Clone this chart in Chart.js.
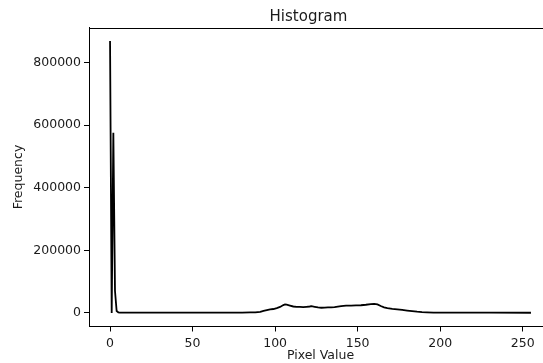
<!DOCTYPE html>
<html>
<head>
<meta charset="utf-8">
<script src="https://cdn.jsdelivr.net/npm/chart.js@4/dist/chart.umd.min.js"></script>
<style>
html,body{margin:0;padding:0;background:#fff;overflow:hidden;width:543px;height:363px;}
#c{position:absolute;left:0;top:0;}
</style>
</head>
<body>
<canvas id="c" width="560" height="363"></canvas>
<script>
// Pixel values (x) and frequencies (y)
const pixelValues = [0, 1, 2, 3, 4, 5, 6, 10, 20, 40, 60, 80, 85, 88, 91, 93, 95, 97, 99, 101, 103, 105, 106, 107, 109, 111, 113, 115, 117, 119, 121, 122, 124, 126, 128, 130, 132, 134, 136, 138, 140, 143, 146, 149, 152, 155, 158, 160, 162, 164, 166, 168, 171, 174, 177, 180, 183, 186, 189, 192, 196, 200, 210, 230, 255];
const frequencies = [868000, 0, 575000, 70000, 6000, 2000, 1000, 900, 800, 700, 700, 1000, 1500, 2000, 3500, 6500, 9000, 11000, 12500, 15500, 19000, 25000, 27000, 26500, 23500, 20500, 19500, 19000, 18500, 19500, 20500, 21500, 19500, 17500, 16500, 17000, 17500, 17500, 18500, 20000, 21500, 23000, 23500, 24000, 24500, 26000, 28000, 29000, 27000, 22000, 17500, 15000, 13000, 11500, 9500, 7500, 5500, 3800, 2500, 1800, 1200, 900, 700, 600, 500];
const xTicks = [0, 50, 100, 150, 200, 250];
const yTicks = [0, 200000, 400000, 600000, 800000];
const chartTitle = 'Histogram';
const xTitle = 'Pixel Value';
const yTitle = 'Frequency';

const points = pixelValues.map((x, i) => ({x: x, y: frequencies[i]}));
const FONT = 'DejaVu Sans';
const TXT = '#1a1a1a';

// top spine + chart title (title centred where the reference has it)
const frame = {
  id: 'frame',
  afterDraw(chart) {
    const {ctx, chartArea} = chart;
    ctx.save();
    ctx.strokeStyle = '#000';
    ctx.lineWidth = 1;
    ctx.beginPath();
    ctx.moveTo(chartArea.left, Math.round(chartArea.top) + 0.5);
    ctx.lineTo(chart.width, Math.round(chartArea.top) + 0.5);
    ctx.stroke();
    ctx.fillStyle = TXT;
    ctx.font = '15px "DejaVu Sans"';
    ctx.textAlign = 'center';
    ctx.textBaseline = 'alphabetic';
    ctx.fillText(chartTitle, 308.5, 20.5);
    ctx.restore();
  }
};

new Chart(document.getElementById('c'), {
  type: 'line',
  data: {
    datasets: [{
      data: points,
      borderColor: '#000',
      borderWidth: 1.8,
      pointRadius: 0,
      tension: 0,
      fill: false
    }]
  },
  options: {
    responsive: false,
    animation: false,
    devicePixelRatio: 1,
    layout: {padding: {left: 0, right: 8, top: 27.5, bottom: 0}},
    plugins: {
      legend: {display: false},
      tooltip: {enabled: false},
      title: {display: false}
    },
    scales: {
      x: {
        type: 'linear',
        min: -12.75,
        max: 267.75,
        afterBuildTicks: s => { s.ticks = xTicks.map(v => ({value: v})); },
        afterFit: s => { s.height = 36.5; },
        ticks: {
          color: TXT,
          font: {family: FONT, size: 12.5},
          padding: 4.5,
          maxRotation: 0,
          autoSkip: false
        },
        grid: {display: true, drawOnChartArea: false, drawTicks: true, tickLength: 5, tickColor: '#000', tickWidth: 1},
        border: {display: true, color: '#000', width: 1},
        title: {
          display: true,
          text: xTitle,
          color: TXT,
          font: {family: FONT, size: 12.5},
          padding: {top: 0, bottom: 0}
        }
      },
      y: {
        type: 'linear',
        min: -43400,
        max: 911400,
        afterBuildTicks: s => { s.ticks = yTicks.map(v => ({value: v})); },
        afterFit: s => { s.width = 89; },
        ticks: {
          color: TXT,
          font: {family: FONT, size: 12.5},
          padding: 3,
          autoSkip: false,
          callback: v => String(v)
        },
        grid: {display: true, drawOnChartArea: false, drawTicks: true, tickLength: 5, tickColor: '#000', tickWidth: 1},
        border: {display: true, color: '#000', width: 1},
        title: {
          display: true,
          text: yTitle,
          color: TXT,
          font: {family: FONT, size: 12.5},
          padding: {top: 11.5, bottom: 0}
        }
      }
    }
  },
  plugins: [frame]
});
</script>
</body>
</html>
